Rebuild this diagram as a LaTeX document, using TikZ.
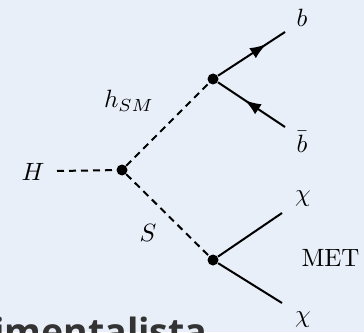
\documentclass[tikz,border=0pt]{standalone}
\usepackage{fontspec}
\newfontfamily\slidefont{Open Sans}
\usetikzlibrary{arrows.meta,decorations.markings}
\definecolor{slidebg}{HTML}{E8EFF8}
\tikzset{
  scalar/.style={thick,dash pattern=on 2.8pt off 2pt},
  fermion/.style={thick},
  fermarrow/.style={thick,postaction={decorate},
    decoration={markings,mark=at position #1 with {\arrow{Latex[length=6.5pt,width=4.8pt]}}}},
  vtx/.style={circle,fill=black,inner sep=0pt,minimum size=4.4pt},
}
\begin{document}
\begin{tikzpicture}[x=0.4pt,y=-0.4pt]
        \useasboundingbox (0,0) rectangle (364,332);
        \fill[slidebg] (0,0) rectangle (364,332);

        \node[vtx] (v1) at (122,170) {};
        \node[vtx] (v2) at (213,79) {};
        \node[vtx] (v3) at (213,260) {};

        \coordinate (hin) at (57,171);
        \coordinate (bout) at (285,32);
        \coordinate (bbout) at (285,127);
        \coordinate (chiup) at (282,213);
        \coordinate (chidn) at (282,303);

        \draw[scalar] (hin) -- (v1);
        \draw[scalar] (v1) -- (v2);
        \draw[scalar] (v1) -- (v3);
        \draw[fermarrow=0.72] (v2) -- (bout);
        \draw[fermarrow=0.6] (bbout) -- (v2);
        \draw[fermion] (v3) -- (chiup);
        \draw[fermion] (v3) -- (chidn);

        \node (lH) at (33,172) {$H$};
        \node (lh) at (129,101) {$h_{SM}$};
        \node (lS) at (148,233) {$S$};
        \node (lb) at (302,18) {$b$};
        \node[inner sep=1pt] (lbb) at (302,142) {$\bar{b}$};
        \node (lc1) at (303,199) {$\chi$};
        \node (lc2) at (303,320) {$\chi$};
        \node[anchor=west,inner sep=0pt] (lmet) at (301,258) {MET};

        \node[anchor=base east,inner sep=0pt,font=\slidefont\bfseries\fontsize{15pt}{18pt}\selectfont,text=black!80] (ltxt) at (208,345) {imentalista};
\end{tikzpicture}
\end{document}
